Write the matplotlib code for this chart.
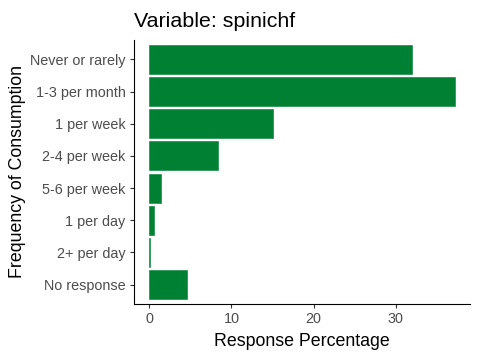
import matplotlib.pyplot as plt

categories = ["Never or rarely", "1-3 per month", "1 per week", "2-4 per week",
              "5-6 per week", "1 per day", "2+ per day", "No response"]
percentages = [32.0, 37.2, 15.1, 8.4, 1.4, 0.6, 0.1, 4.6]
xticks = [0, 10, 20, 30]

plt.rcParams['font.family'] = ['Liberation Sans', 'DejaVu Sans']

fig = plt.figure(figsize=(4.8, 3.6), dpi=100)
ax = fig.add_axes([0.279, 0.1556, 0.701, 0.7333])

# ggplot puts the first level at the top
pos = list(range(len(categories), 0, -1))
ax.barh(pos, percentages, height=0.9, color='#008033',
        edgecolor='#008033', linewidth=0.4)

ax.set_yticks(pos)
ax.set_yticklabels(categories)
ax.set_xticks(xticks)
ax.set_ylim(0.4, len(categories) + 0.6)
xmax = max(percentages)
ax.set_xlim(-0.05 * xmax, xmax * 1.05)

for side in ['top', 'right']:
    ax.spines[side].set_visible(False)
for side in ['left', 'bottom']:
    ax.spines[side].set_linewidth(0.8)
    ax.spines[side].set_color('black')
ax.tick_params(axis='both', length=3, width=0.8, color='#333333',
               labelcolor='#4D4D4D', labelsize=10.4, pad=3)

ax.set_xlabel("Response Percentage", fontsize=12.8, color='black', labelpad=5)
ax.set_ylabel("Frequency of Consumption", fontsize=12.8, color='black', labelpad=3)
ax.set_title("Variable: spinichf", fontsize=15.4, loc='left', pad=9)

fig.savefig("out.png", dpi=100)
